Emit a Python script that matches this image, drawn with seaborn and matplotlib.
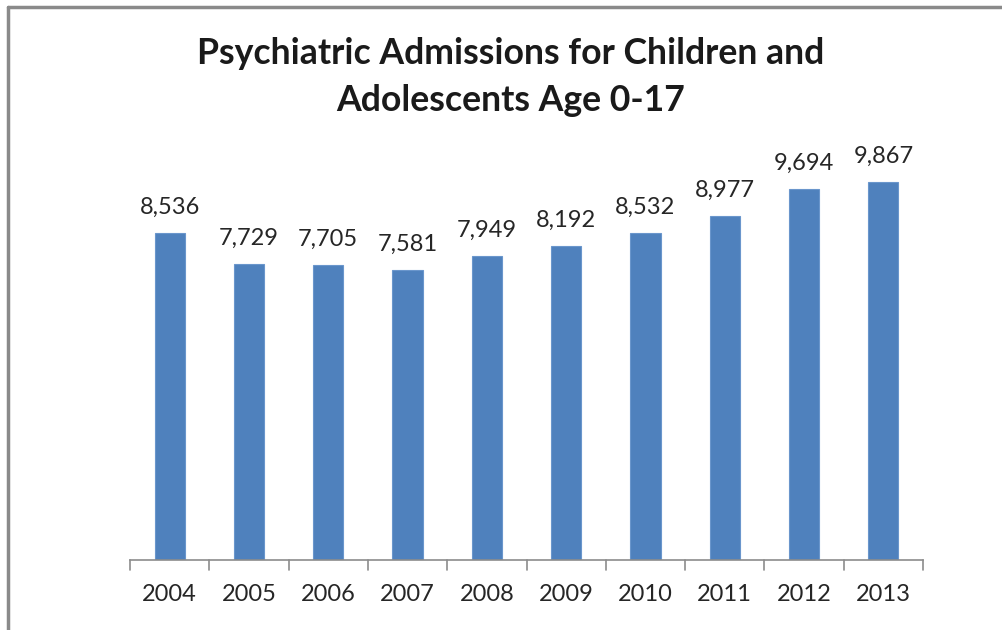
import matplotlib
matplotlib.use("Agg")
import matplotlib.pyplot as plt
import seaborn as sns
import pandas as pd
from matplotlib.lines import Line2D

years = ["2004", "2005", "2006", "2007", "2008", "2009", "2010", "2011", "2012", "2013"]
admissions = [8536, 7729, 7705, 7581, 7949, 8192, 8532, 8977, 9694, 9867]
title = "Psychiatric Admissions for Children and\nAdolescents Age 0-17"

sns.set_theme(style="white")
plt.rcParams["font.family"] = ["Lato", "DejaVu Sans"]

df = pd.DataFrame({"year": years, "admissions": admissions})

fig = plt.figure(figsize=(10.03, 6.30), dpi=100)
ax = fig.add_axes([130 / 1003, 1 - 560 / 630, (923 - 130) / 1003, 421 / 630])

sns.barplot(data=df, x="year", y="admissions", color="#4F81BD", width=0.38,
            saturation=1, edgecolor="#6A96CC", linewidth=0.8, ax=ax)
ax.set_ylim(0, 11000)
ax.set_xlim(-0.5, len(years) - 0.5)

for i, v in enumerate(admissions):
    ax.annotate(f"{v:,}", (i, v), xytext=(0, 11), textcoords="offset points",
                ha="center", va="bottom", fontsize=17, color="#262626")

for s in ["top", "right", "left"]:
    ax.spines[s].set_visible(False)
ax.spines["bottom"].set_color("#8C8C8C")
ax.spines["bottom"].set_linewidth(1.2)
ax.set_yticks([])
ax.set_xlabel("")
ax.set_ylabel("")
ax.set_xticks(range(len(years)))
ax.set_xticklabels(years, fontsize=17, color="#262626")
ax.tick_params(axis="x", length=0, pad=17)
# boundary tick marks
for b in [i - 0.5 for i in range(len(years) + 1)]:
    ax.plot([b, b], [0, -260], color="#8C8C8C", lw=1.2, clip_on=False)

fig.text(511 / 1003, 1 - 77 / 630, title, ha="center", va="center",
         fontsize=25.7, fontweight="bold", color="#1a1a1a", linespacing=1.52)

# partial frame (top and left)
fig.add_artist(Line2D([8 / 1003, 8 / 1003], [0, 1 - 7 / 630], transform=fig.transFigure,
                      color="#8a8a8a", lw=2.5))
fig.add_artist(Line2D([8 / 1003, 1], [1 - 7 / 630, 1 - 7 / 630], transform=fig.transFigure,
                      color="#8a8a8a", lw=2.5))

fig.savefig("out.png", dpi=100, facecolor="white")
